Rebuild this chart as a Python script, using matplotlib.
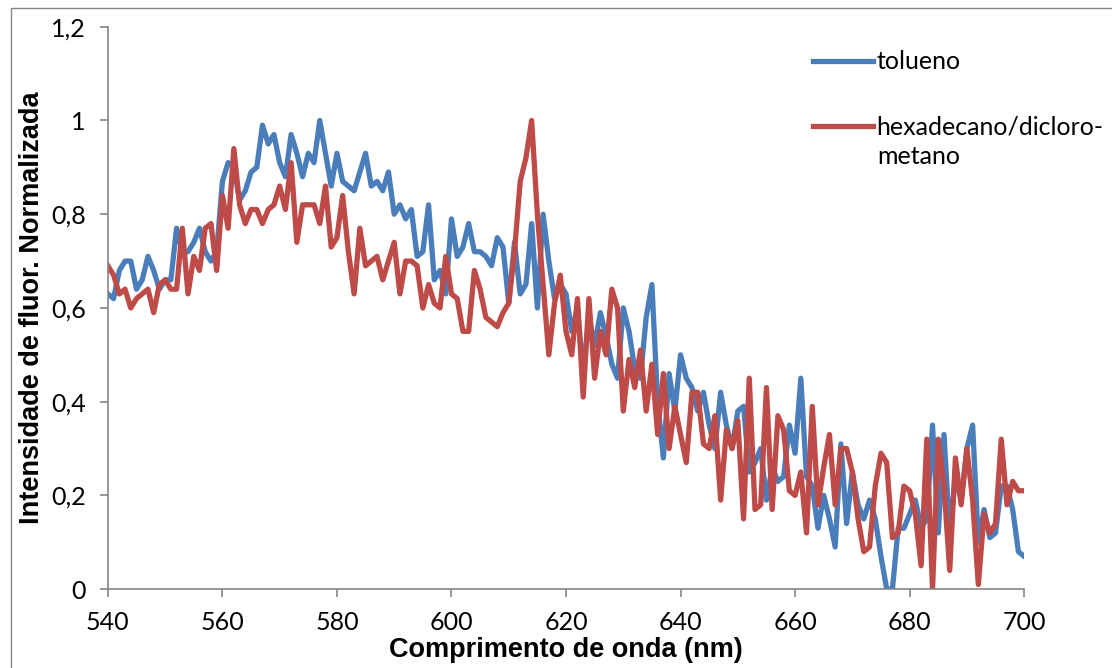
import numpy as np
import matplotlib
matplotlib.use("Agg")
import matplotlib.pyplot as plt
from matplotlib.ticker import FuncFormatter, MultipleLocator
from matplotlib.patches import Rectangle

# comprimento de onda (nm), passo de 1 nm
wavelength = np.arange(540, 701)

tolueno = [
    0.63, 0.62, 0.68, 0.70, 0.70, 0.64, 0.66, 0.71, 0.68, 0.64,
    0.66, 0.66, 0.77, 0.72, 0.72, 0.74, 0.77, 0.72, 0.70, 0.72,
    0.87, 0.91, 0.90, 0.83, 0.85, 0.89, 0.90, 0.99, 0.95, 0.97,
    0.91, 0.88, 0.97, 0.93, 0.88, 0.93, 0.91, 1.00, 0.93, 0.86,
    0.93, 0.87, 0.86, 0.85, 0.89, 0.93, 0.86, 0.87, 0.85, 0.89,
    0.80, 0.82, 0.79, 0.81, 0.71, 0.72, 0.82, 0.66, 0.68, 0.63,
    0.79, 0.71, 0.73, 0.78, 0.72, 0.72, 0.71, 0.69, 0.75, 0.73,
    0.61, 0.74, 0.63, 0.65, 0.78, 0.60, 0.80, 0.70, 0.62, 0.65,
    0.63, 0.55, 0.60, 0.46, 0.58, 0.52, 0.59, 0.54, 0.48, 0.45,
    0.60, 0.55, 0.47, 0.45, 0.58, 0.65, 0.40, 0.28, 0.46, 0.38,
    0.50, 0.45, 0.43, 0.38, 0.42, 0.35, 0.30, 0.42, 0.35, 0.30,
    0.38, 0.39, 0.25, 0.27, 0.30, 0.19, 0.26, 0.23, 0.24, 0.35,
    0.29, 0.45, 0.24, 0.22, 0.13, 0.20, 0.15, 0.09, 0.31, 0.14,
    0.25, 0.18, 0.15, 0.19, 0.15, 0.07, 0.00, 0.00, 0.13, 0.13,
    0.16, 0.19, 0.13, 0.15, 0.35, 0.12, 0.33, 0.12, 0.24, 0.19,
    0.30, 0.35, 0.10, 0.17, 0.11, 0.12, 0.22, 0.22, 0.17, 0.08,
    0.07,
]

hexadecano = [
    0.69, 0.67, 0.63, 0.64, 0.60, 0.62, 0.63, 0.64, 0.59, 0.65,
    0.66, 0.64, 0.64, 0.77, 0.63, 0.71, 0.68, 0.77, 0.78, 0.68,
    0.84, 0.77, 0.94, 0.82, 0.78, 0.81, 0.81, 0.78, 0.81, 0.82,
    0.86, 0.81, 0.91, 0.74, 0.82, 0.82, 0.82, 0.78, 0.86, 0.73,
    0.75, 0.84, 0.72, 0.63, 0.77, 0.69, 0.70, 0.71, 0.66, 0.70,
    0.74, 0.63, 0.70, 0.70, 0.69, 0.60, 0.65, 0.61, 0.60, 0.71,
    0.63, 0.62, 0.55, 0.55, 0.68, 0.64, 0.58, 0.57, 0.56, 0.59,
    0.61, 0.72, 0.87, 0.92, 1.00, 0.80, 0.65, 0.50, 0.61, 0.67,
    0.55, 0.50, 0.62, 0.41, 0.62, 0.45, 0.55, 0.50, 0.64, 0.60,
    0.38, 0.49, 0.43, 0.51, 0.38, 0.48, 0.33, 0.46, 0.30, 0.39,
    0.33, 0.27, 0.42, 0.42, 0.31, 0.30, 0.37, 0.19, 0.34, 0.30,
    0.36, 0.15, 0.45, 0.17, 0.18, 0.43, 0.17, 0.37, 0.34, 0.21,
    0.20, 0.25, 0.12, 0.39, 0.18, 0.26, 0.33, 0.18, 0.30, 0.30,
    0.25, 0.15, 0.08, 0.09, 0.22, 0.29, 0.27, 0.11, 0.12, 0.22,
    0.21, 0.16, 0.05, 0.32, 0.00, 0.32, 0.22, 0.04, 0.28, 0.18,
    0.30, 0.19, 0.01, 0.16, 0.12, 0.14, 0.32, 0.18, 0.23, 0.21,
    0.21,
]

labels = ["tolueno", "hexadecano/dicloro-"]
label_cont = "metano"
azul = "#4A7EBB"
vermelho = "#BE4B48"
cinza = "#868686"
fs = 18

fig = plt.figure(figsize=(11.12, 6.68), dpi=100)
ax = fig.add_axes([0.097, 0.118, 0.824, 0.842])

# moldura do grafico (estilo Excel)
fig.patches.append(Rectangle((11 / 1112, -0.05), 1.2, 1 - 8 / 668 + 0.05,
                             transform=fig.transFigure, fill=False,
                             edgecolor=cinza, lw=1.0))

ax.plot(wavelength, tolueno, color=azul, lw=3.8, label=labels[0],
        solid_joinstyle="round")
ax.plot(wavelength, hexadecano, color=vermelho, lw=3.8, label=labels[1],
        solid_joinstyle="round")

ax.set_xlim(540, 700)
ax.set_ylim(0, 1.2)
ax.xaxis.set_major_locator(MultipleLocator(20))
ax.yaxis.set_major_locator(MultipleLocator(0.2))
ax.yaxis.set_major_formatter(FuncFormatter(
    lambda v, p: f"{v:.1f}".rstrip("0").rstrip(".").replace(".", ",")))

for s in ["top", "right"]:
    ax.spines[s].set_visible(False)
for s in ["left", "bottom"]:
    ax.spines[s].set_color(cinza)
    ax.spines[s].set_linewidth(1.2)

ax.tick_params(axis="both", direction="out", color=cinza, width=1.2,
               length=6, labelsize=fs)
ax.tick_params(axis="y", pad=10)
ax.tick_params(axis="x", pad=10)
for t in ax.get_xticklabels() + ax.get_yticklabels():
    t.set_fontfamily("Lato")

ax.set_xlabel("Comprimento de onda (nm)", fontsize=19.5, fontweight="bold",
              family="Liberation Sans", labelpad=2)
ax.set_ylabel("Intensidade de fluor. Normalizada", fontsize=19.5,
              fontweight="bold", family="Liberation Sans", labelpad=4)

leg = ax.legend(loc="upper left", bbox_to_anchor=(0.770, 0.958),
                frameon=False, handlelength=2.4, handletextpad=0.12,
                labelspacing=1.7, borderpad=0, borderaxespad=0,
                prop={"family": "Lato", "size": fs})
ax.text(0.840, 0.769, label_cont, transform=ax.transAxes, va="center",
        ha="left", family="Lato", fontsize=fs)

fig.savefig("out.png", dpi=100)
